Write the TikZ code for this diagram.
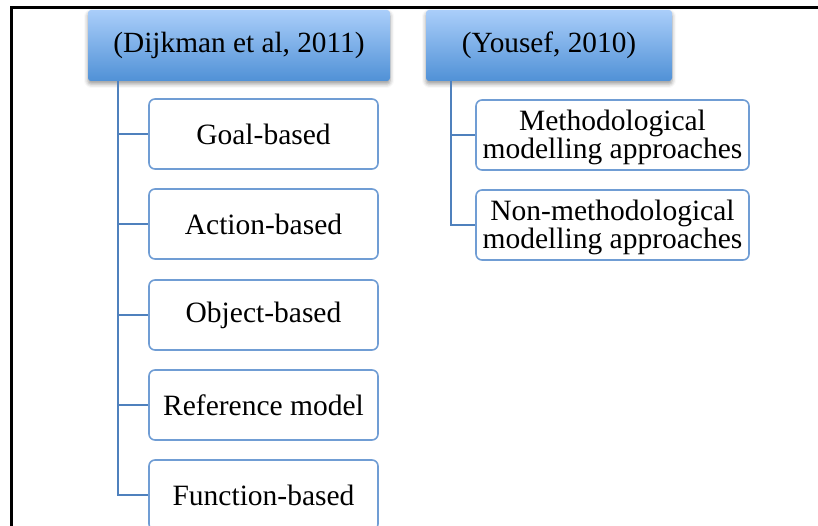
\documentclass[tikz,border=0pt]{standalone}
\usepackage{fontspec}
\setmainfont{Liberation Serif}
\usetikzlibrary{shadows.blur}
\definecolor{linkblue}{RGB}{79,129,189}
\definecolor{boxedge}{RGB}{112,157,212}
\definecolor{headtop}{RGB}{170,206,250}
\definecolor{headbot}{RGB}{80,145,214}
\begin{document}
\begin{tikzpicture}[x=1pt,y=-1pt,
  head/.style={rounded corners=3pt, top color=headtop, bottom color=headbot,
    draw=none, minimum height=71pt, inner sep=0pt,
    font=\fontsize{29.3}{29}\selectfont,
    blur shadow={shadow xshift=0pt, shadow yshift=-3pt,
      shadow blur radius=4pt, shadow opacity=40}},
  leaf/.style={rounded corners=6pt, draw=boxedge, line width=1.6pt, fill=white,
    minimum height=70pt, inner sep=0pt, align=center,
    font=\fontsize{29.5}{28.5}\selectfont},
  twoline/.style={leaf, text depth=8pt},
  link/.style={draw=linkblue, line width=1.6pt}]
\useasboundingbox (0,0) rectangle (818,526);
% outer frame (left and top edges)
\draw[line width=3pt] (11,527) -- (11,8) -- (819,8);

% first column
\node[head, minimum width=302pt] (dij) at (239,45.5) {(Dijkman et al, 2011)};
\node[leaf, minimum width=229pt] (goal) at (263.5,134) {Goal-based};
\node[leaf, minimum width=229pt] (action) at (263.5,224) {Action-based};
\node[leaf, minimum width=229pt] (object) at (263.5,315) {Object-based};
\node[leaf, minimum width=229pt] (refm) at (263.5,405) {Reference model};
\node[leaf, minimum width=229pt] (func) at (263.5,495) {Function-based};
\coordinate (dtrunk) at ([xshift=30pt]dij.south west);
\foreach \c in {goal,action,object,refm,func}
  \draw[link] (dtrunk) |- (\c.west);

% second column
\node[head, minimum width=246pt] (you) at (549,45.5) {(Yousef, 2010)};
\node[leaf, minimum width=273pt] (meth) at (612.5,135) {};
\node at ([yshift=-2.5pt]meth.center) [align=center, inner sep=0pt,
  font=\fontsize{29.5}{28.5}\selectfont] (methtxt) {Methodological\\modelling approaches};
\node[leaf, minimum width=273pt] (nonmeth) at (612.5,225) {};
\node at ([yshift=-2.5pt]nonmeth.center) [align=center, inner sep=0pt,
  font=\fontsize{29.5}{28.5}\selectfont] (nonmethtxt) {Non-methodological\\modelling approaches};
\coordinate (ytrunk) at ([xshift=25pt]you.south west);
\foreach \c in {meth,nonmeth}
  \draw[link] (ytrunk) |- (\c.west);
\end{tikzpicture}
\end{document}
